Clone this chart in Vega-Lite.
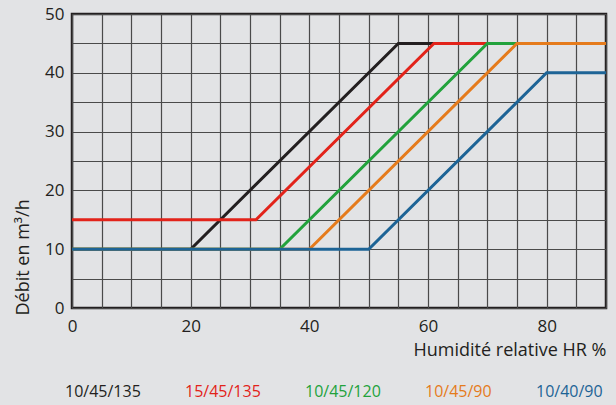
{
  "$schema": "https://vega.github.io/schema/vega-lite/v6.json",
  "width": 534,
  "height": 294,
  "autosize": "none",
  "padding": {"left": 72, "top": 14, "right": 10, "bottom": 97},
  "background": "#e2e3e5",
  "config": {
    "font": "Open Sans",
    "view": {"stroke": "#231f20", "strokeWidth": 2.5, "fill": "#e2e3e5"}
  },
  "data": {
    "values": [
      {"s": "10/45/135", "o": 1, "x": 0, "y": 10},
      {"s": "10/45/135", "o": 1, "x": 20, "y": 10},
      {"s": "10/45/135", "o": 1, "x": 55, "y": 45},
      {"s": "10/45/135", "o": 1, "x": 90, "y": 45},
      {"s": "15/45/135", "o": 2, "x": 0, "y": 15},
      {"s": "15/45/135", "o": 2, "x": 31, "y": 15},
      {"s": "15/45/135", "o": 2, "x": 61, "y": 45},
      {"s": "15/45/135", "o": 2, "x": 90, "y": 45},
      {"s": "10/45/120", "o": 3, "x": 0, "y": 10},
      {"s": "10/45/120", "o": 3, "x": 35, "y": 10},
      {"s": "10/45/120", "o": 3, "x": 70, "y": 45},
      {"s": "10/45/120", "o": 3, "x": 90, "y": 45},
      {"s": "10/45/90", "o": 4, "x": 0, "y": 10},
      {"s": "10/45/90", "o": 4, "x": 40, "y": 10},
      {"s": "10/45/90", "o": 4, "x": 75, "y": 45},
      {"s": "10/45/90", "o": 4, "x": 90, "y": 45},
      {"s": "10/40/90", "o": 5, "x": 0, "y": 10},
      {"s": "10/40/90", "o": 5, "x": 50, "y": 10},
      {"s": "10/40/90", "o": 5, "x": 80, "y": 40},
      {"s": "10/40/90", "o": 5, "x": 90, "y": 40}
    ]
  },
  "mark": {"type": "line", "strokeWidth": 3, "clip": true},
  "encoding": {
    "x": {
      "field": "x", "type": "quantitative",
      "scale": {"domain": [0, 90], "nice": false, "zero": false},
      "axis": {
        "values": [0,5,10,15,20,25,30,35,40,45,50,55,60,65,70,75,80,85,90],
        "labelExpr": "datum.value % 20 === 0 ? datum.label : ''",
        "domain": false, "ticks": false,
        "grid": true, "gridColor": "#4a4a4a", "gridWidth": 1.2, "gridOpacity": 1,
        "labelFontSize": 17, "labelColor": "#231f20", "labelPadding": 10,
        "labelFlush": false,
        "title": "Humidité relative HR %",
        "titleFontSize": 18, "titleFontWeight": "normal", "titleColor": "#231f20",
        "titleAnchor": "end", "titlePadding": 7
      }
    },
    "y": {
      "field": "y", "type": "quantitative",
      "scale": {"domain": [0, 50], "nice": false},
      "axis": {
        "values": [0,5,10,15,20,25,30,35,40,45,50],
        "labelExpr": "datum.value % 10 === 0 ? datum.label : ''",
        "domain": false, "ticks": false,
        "grid": true, "gridColor": "#4a4a4a", "gridWidth": 1.2, "gridOpacity": 1,
        "labelFontSize": 17, "labelColor": "#231f20", "labelPadding": 8,
        "labelFlush": false,
        "title": "Débit en m³/h",
        "titleFontSize": 18, "titleFontWeight": "normal", "titleColor": "#231f20",
        "titleAnchor": "start", "titleY": 301, "titleAlign": "left", "titlePadding": 12
      }
    },
    "color": {
      "field": "s", "type": "nominal",
      "scale": {
        "domain": ["10/45/135", "15/45/135", "10/45/120", "10/45/90", "10/40/90"],
        "range": ["#231f20", "#e2231a", "#22a23c", "#e57b1c", "#1d6496"]
      },
      "legend": {
        "orient": "none", "direction": "horizontal",
        "legendX": -23, "legendY": 370,
        "title": null,
        "symbolSize": 0, "symbolStrokeWidth": 0, "symbolOpacity": 0,
        "labelOffset": 0, "columnPadding": 28,
        "labelFontSize": 16,
        "encode": {"labels": {"update": {"fill": {"scale": "color", "field": "value"}}}}
      }
    },
    "order": {"field": "o", "type": "quantitative"},
    "detail": {"field": "s"}
  }
}
